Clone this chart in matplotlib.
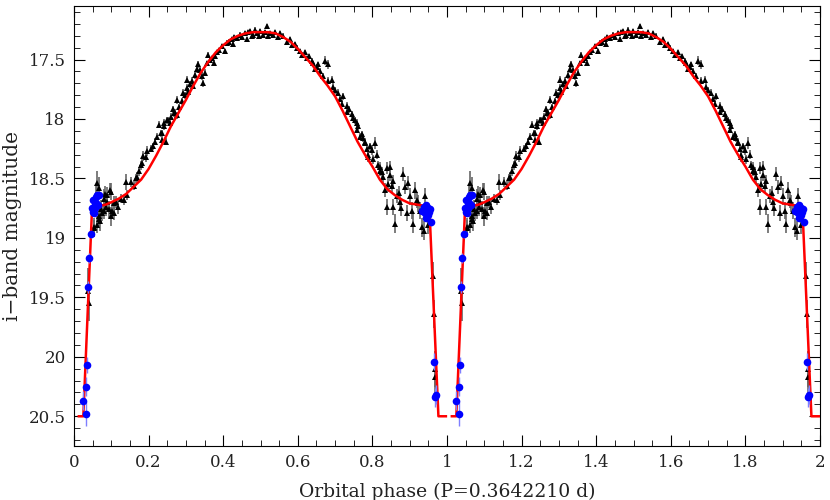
import matplotlib
matplotlib.use('Agg')
import matplotlib.pyplot as plt
from matplotlib.ticker import MultipleLocator
import numpy as np

# model light curve (one orbit, phase / i mag)
model_phase = [0.013, 0.025, 0.048, 0.055, 0.07, 0.085, 0.10, 0.12, 0.14, 0.16, 0.18,
               0.20, 0.22, 0.24, 0.26, 0.28, 0.30, 0.32, 0.34, 0.36, 0.38, 0.40,
               0.42, 0.44, 0.46, 0.48, 0.50, 0.52, 0.54, 0.56, 0.58, 0.60, 0.62,
               0.64, 0.66, 0.68, 0.70, 0.72, 0.74, 0.76, 0.78, 0.80, 0.82, 0.84,
               0.86, 0.88, 0.90, 0.92, 0.94, 0.953, 0.977, 0.997]
model_mag = [20.50, 20.50, 18.78, 18.74, 18.73, 18.72, 18.70, 18.67, 18.63, 18.57, 18.51,
             18.42, 18.31, 18.19, 18.06, 17.95, 17.84, 17.72, 17.61, 17.52, 17.44, 17.38,
             17.33, 17.30, 17.28, 17.27, 17.27, 17.27, 17.28, 17.31, 17.35, 17.41, 17.48,
             17.55, 17.64, 17.72, 17.81, 17.93, 18.06, 18.19, 18.30, 18.40, 18.51, 18.59,
             18.64, 18.68, 18.71, 18.72, 18.73, 18.76, 20.50, 20.50]

# black triangles
tri_phase = [0.038, 0.039, 0.053, 0.054, 0.058, 0.062, 0.062, 0.066, 0.067, 0.067,
             0.071, 0.072, 0.076, 0.080, 0.080, 0.083, 0.085, 0.088, 0.089, 0.093,
             0.097, 0.098, 0.098, 0.103, 0.106, 0.107, 0.112, 0.118, 0.125, 0.134,
             0.139, 0.143, 0.152, 0.161, 0.165, 0.170, 0.174, 0.179, 0.183, 0.186,
             0.192, 0.197, 0.206, 0.213, 0.217, 0.223, 0.228, 0.232, 0.235, 0.237,
             0.240, 0.241, 0.246, 0.250, 0.253, 0.257, 0.259, 0.266, 0.268, 0.271,
             0.275, 0.277, 0.282, 0.289, 0.293, 0.297, 0.302, 0.302, 0.306, 0.311,
             0.316, 0.320, 0.325, 0.329, 0.333, 0.338, 0.342, 0.347, 0.351, 0.356,
             0.360, 0.365, 0.369, 0.374, 0.378, 0.383, 0.390, 0.396, 0.405, 0.409,
             0.415, 0.423, 0.427, 0.430, 0.436, 0.445, 0.450, 0.458, 0.463, 0.467,
             0.472, 0.476, 0.481, 0.486, 0.490, 0.495, 0.499, 0.507, 0.512, 0.517,
             0.520, 0.525, 0.534, 0.540, 0.546, 0.552, 0.560, 0.570, 0.578, 0.584,
             0.592, 0.597, 0.606, 0.612, 0.619, 0.624, 0.630, 0.637, 0.642, 0.646,
             0.651, 0.655, 0.660, 0.668, 0.673, 0.682, 0.682, 0.691, 0.695, 0.700,
             0.709, 0.713, 0.718, 0.722, 0.731, 0.731, 0.738, 0.745, 0.749, 0.753,
             0.758, 0.760, 0.762, 0.767, 0.771, 0.775, 0.780, 0.780, 0.785, 0.789,
             0.789, 0.794, 0.798, 0.802, 0.807, 0.811, 0.816, 0.820, 0.820, 0.825,
             0.829, 0.834, 0.838, 0.838, 0.843, 0.847, 0.847, 0.852, 0.856, 0.856,
             0.861, 0.865, 0.870, 0.874, 0.878, 0.883, 0.887, 0.892, 0.896, 0.901,
             0.905, 0.910, 0.914, 0.919, 0.923, 0.928, 0.932, 0.937, 0.941, 0.950,
             0.962, 0.965, 0.967, 0.969]
tri_mag = [19.45, 19.55, 18.91, 18.92, 18.64, 18.54, 18.89, 18.82, 18.58, 18.84,
           18.86, 18.76, 18.79, 18.67, 18.77, 18.63, 18.74, 18.70, 18.64, 18.76,
           18.60, 18.61, 18.82, 18.77, 18.79, 18.71, 18.70, 18.74, 18.67, 18.68,
           18.53, 18.64, 18.53, 18.56, 18.50, 18.49, 18.44, 18.39, 18.37, 18.31,
           18.32, 18.27, 18.25, 18.23, 18.19, 18.15, 18.05, 18.12, 18.12, 18.18,
           18.06, 18.03, 18.19, 18.01, 18.01, 18.03, 17.98, 17.92, 17.95, 17.95,
           17.84, 17.97, 17.90, 17.85, 17.78, 17.80, 17.74, 17.67, 17.77, 17.71,
           17.68, 17.72, 17.63, 17.58, 17.54, 17.59, 17.64, 17.70, 17.61, 17.53,
           17.46, 17.50, 17.49, 17.53, 17.47, 17.44, 17.42, 17.39, 17.43, 17.36,
           17.35, 17.33, 17.37, 17.31, 17.32, 17.29, 17.31, 17.28, 17.33, 17.27,
           17.26, 17.30, 17.29, 17.25, 17.28, 17.30, 17.26, 17.29, 17.27, 17.22,
           17.30, 17.28, 17.29, 17.27, 17.31, 17.28, 17.30, 17.35, 17.33, 17.38,
           17.37, 17.40, 17.43, 17.46, 17.44, 17.49, 17.47, 17.51, 17.53, 17.58,
           17.56, 17.54, 17.60, 17.64, 17.51, 17.54, 17.68, 17.67, 17.73, 17.76,
           17.78, 17.83, 17.87, 17.81, 17.89, 17.94, 17.92, 17.96, 17.99, 18.01,
           18.09, 18.03, 18.06, 18.15, 18.13, 18.16, 18.19, 18.20, 18.25, 18.30,
           18.32, 18.23, 18.26, 18.34, 18.20, 18.30, 18.39, 18.40, 18.44, 18.45,
           18.49, 18.60, 18.41, 18.74, 18.55, 18.40, 18.47, 18.56, 18.52, 18.74,
           18.88, 18.65, 18.62, 18.70, 18.75, 18.46, 18.57, 18.79, 18.54, 18.65,
           18.77, 18.88, 18.60, 18.68, 18.71, 18.77, 18.91, 18.94, 18.65, 18.89,
           19.32, 19.64, 20.10, 20.17]
tri_err = [0.20, 0.15, 0.08, 0.07, 0.08, 0.10, 0.07, 0.08, 0.09, 0.08,
           0.08, 0.08, 0.07, 0.08, 0.07, 0.07, 0.08, 0.07, 0.07, 0.07,
           0.06, 0.07, 0.08, 0.07, 0.06, 0.06, 0.05, 0.06, 0.04, 0.04,
           0.07, 0.04, 0.04, 0.04, 0.04, 0.04, 0.04, 0.04, 0.04, 0.04,
           0.04, 0.04, 0.03, 0.03, 0.03, 0.03, 0.03, 0.03, 0.03, 0.03,
           0.03, 0.03, 0.03, 0.03, 0.03, 0.03, 0.03, 0.03, 0.03, 0.03,
           0.03, 0.03, 0.03, 0.03, 0.03, 0.03, 0.03, 0.03, 0.03, 0.03,
           0.03, 0.03, 0.03, 0.03, 0.03, 0.03, 0.03, 0.03, 0.03, 0.02,
           0.02, 0.02, 0.02, 0.02, 0.02, 0.02, 0.02, 0.02, 0.02, 0.02,
           0.02, 0.02, 0.02, 0.02, 0.02, 0.02, 0.02, 0.02, 0.02, 0.02,
           0.02, 0.02, 0.02, 0.02, 0.02, 0.02, 0.02, 0.02, 0.02, 0.02,
           0.02, 0.02, 0.02, 0.02, 0.02, 0.02, 0.02, 0.02, 0.02, 0.02,
           0.02, 0.02, 0.02, 0.02, 0.02, 0.02, 0.02, 0.02, 0.02, 0.02,
           0.02, 0.02, 0.03, 0.03, 0.04, 0.04, 0.03, 0.03, 0.03, 0.03,
           0.03, 0.03, 0.03, 0.03, 0.03, 0.03, 0.03, 0.03, 0.03, 0.03,
           0.03, 0.03, 0.03, 0.03, 0.03, 0.03, 0.03, 0.03, 0.03, 0.04,
           0.04, 0.03, 0.04, 0.04, 0.05, 0.04, 0.04, 0.04, 0.04, 0.05,
           0.05, 0.06, 0.05, 0.07, 0.06, 0.05, 0.05, 0.06, 0.05, 0.07,
           0.08, 0.06, 0.06, 0.06, 0.07, 0.06, 0.06, 0.07, 0.06, 0.07,
           0.07, 0.08, 0.07, 0.07, 0.07, 0.07, 0.08, 0.08, 0.07, 0.08,
           0.12, 0.12, 0.15, 0.15]

# blue dots (eclipse coverage)
blue_phase = [0.023, 0.031, 0.032, 0.036, 0.038, 0.041, 0.045, 0.047, 0.050, 0.052,
              0.053, 0.055, 0.056, 0.059, 0.059, 0.062, 0.064, 0.067,
              0.934, 0.937, 0.940, 0.943, 0.945, 0.946, 0.948, 0.950, 0.952, 0.955,
              0.957, 0.966, 0.968, 0.971]
blue_mag = [20.37, 20.48, 20.25, 20.07, 19.41, 19.17, 18.97, 18.75, 18.78, 18.68,
            18.79, 18.72, 18.75, 18.66, 18.71, 18.64, 18.72, 18.64,
            18.77, 18.74, 18.79, 18.72, 18.83, 18.77, 18.81, 18.75, 18.78, 18.76,
            18.87, 20.04, 20.34, 20.32]
blue_err = [0.08, 0.10, 0.08, 0.07, 0.05, 0.04, 0.03, 0.02, 0.02, 0.02,
            0.02, 0.02, 0.02, 0.02, 0.02, 0.02, 0.02, 0.02,
            0.02, 0.02, 0.02, 0.02, 0.02, 0.02, 0.02, 0.02, 0.02, 0.02,
            0.03, 0.07, 0.08, 0.08]

plt.rcParams['font.family'] = ['DejaVu Serif']

fig = plt.figure(figsize=(8.3, 5), dpi=100)
ax = fig.add_axes([74 / 830, 54 / 500, 746 / 830, 440 / 500])

for cycle in [0, 1]:
    tp = np.array(tri_phase) + cycle
    bp = np.array(blue_phase) + cycle
    mp = np.array(model_phase) + cycle
    ax.errorbar(tp, tri_mag, yerr=tri_err, fmt='none', ecolor='0.4', elinewidth=1.2, zorder=1)
    ax.plot(tp, tri_mag, '^', color='black', ms=5, mew=0, zorder=2)
    ax.plot(mp, model_mag, '-', color='red', lw=1.8, zorder=3)
    ax.errorbar(bp, blue_mag, yerr=blue_err, fmt='none', ecolor='#7f7fff', elinewidth=1, zorder=4)
    ax.plot(bp, blue_mag, 'o', color='blue', ms=5.5, mew=0, zorder=5)

ax.set_xlim(0, 2)
ax.set_ylim(20.75, 17.05)

ax.xaxis.set_major_locator(MultipleLocator(0.2))
ax.xaxis.set_minor_locator(MultipleLocator(0.05))
ax.yaxis.set_major_locator(MultipleLocator(0.5))
ax.yaxis.set_minor_locator(MultipleLocator(0.1))
ax.xaxis.set_major_formatter(plt.FuncFormatter(lambda v, p: f'{v:g}'))
ax.yaxis.set_major_formatter(plt.FuncFormatter(lambda v, p: f'{v:g}'))

ax.tick_params(which='both', direction='in', top=True, right=True, labelsize=12,
               labelcolor='#222222', pad=6)
ax.tick_params(which='major', length=8)
ax.tick_params(which='minor', length=4)

ax.set_xlabel('Orbital phase (P=0.3642210 d)', fontsize=13.5, color='#222222', labelpad=8)
ax.set_ylabel('i\u2212band magnitude', fontsize=14.5, color='#222222', labelpad=5)

fig.savefig('out.png', dpi=100)
